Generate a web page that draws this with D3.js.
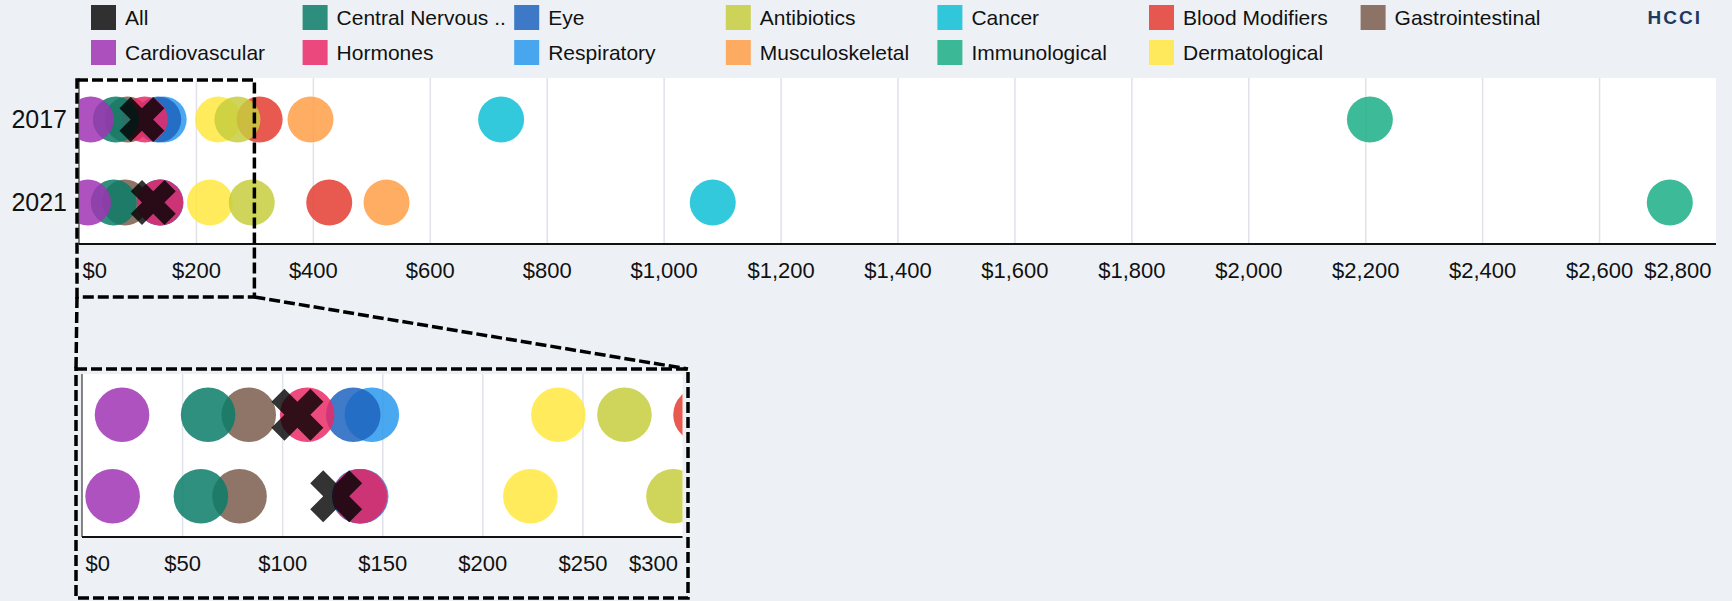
<!DOCTYPE html>
<html>
<head>
<meta charset="utf-8">
<script src="https://cdn.jsdelivr.net/npm/d3@7"></script>
<style>
  html, body { margin: 0; padding: 0; background: #edf1f5; }
  svg { display: block; font-family: "Liberation Sans", Arial, sans-serif; }
</style>
</head>
<body>
<svg id="chart" width="1732" height="601"></svg>
<script>
// ---- data ---------------------------------------------------------------
const years = ["2017", "2021"];

const categories = [
  "All", "Cardiovascular", "Central Nervous System", "Hormones", "Eye",
  "Respiratory", "Antibiotics", "Musculoskeletal", "Cancer", "Immunological",
  "Blood Modifiers", "Dermatological", "Gastrointestinal"
];

const colors = [
  "#000000", "#a034b4", "#0b7c68", "#ea2a67", "#1d64be",
  "#2a99ed", "#c7ce3d", "#ff9f46", "#0fc0d6", "#1baf86",
  "#e43d31", "#ffe83f", "#7a5d4c"
];

// average spend per member, in dollars, same order as categories
const values2017 = [107.6, 20, 63, 112.5, 135.5, 144.8, 271, 396, 722, 2208, 309, 238, 83.3];
const values2021 = [127, 15.3, 59.4, 139, 138.5, 139.5, 295.5, 526, 1084, 2721, 428, 224, 78.7];

const mainTicks = [0, 200, 400, 600, 800, 1000, 1200, 1400, 1600, 1800, 2000, 2200, 2400, 2600, 2800];
const zoomTicks = [0, 50, 100, 150, 200, 250, 300];

// ---- build records ------------------------------------------------------
const seriesValues = { "2017": values2017, "2021": values2021 };
const points = [];
years.forEach(y => {
  categories.forEach((c, i) => points.push({ year: y, cat: c, idx: i, value: seriesValues[y][i] }));
});
// later categories sit underneath: draw in reverse order, "All" last
const circlePoints = points.filter(d => d.cat !== "All").sort((a, b) => b.idx - a.idx);
const allPoints = points.filter(d => d.cat === "All");

const svg = d3.select("#chart");
const fmt = d3.format("$,");
const colorOf = d3.scaleOrdinal().domain(categories).range(colors);

// ---- legend -------------------------------------------------------------
const legend = svg.append("g").attr("class", "legend");
const perRow = 2;
categories.forEach((c, i) => {
  const col = Math.floor(i / perRow), row = i % perRow;
  const g = legend.append("g").attr("transform", `translate(${91 + col * 211.6},${5 + row * 35})`);
  g.append("rect").attr("width", 25).attr("height", 25)
    .attr("fill", colorOf(c)).attr("fill-opacity", c === "All" ? 0.8 : 0.85);
  const t = g.append("text").attr("x", 34).attr("y", 12.5).attr("dy", "0.35em")
    .attr("font-size", 21).attr("fill", "#111").text(c);
  // shorten long names to whole words followed by " .."
  const maxW = 172;
  if (t.node().getComputedTextLength() > maxW) {
    const words = c.split(" ");
    while (words.length > 1) {
      words.pop();
      t.text(words.join(" ") + " ..");
      if (t.node().getComputedTextLength() <= maxW) break;
    }
  }
});

svg.append("text").attr("x", 1702).attr("y", 17).attr("dy", "0.35em")
  .attr("text-anchor", "end").attr("font-size", 19).attr("font-weight", "bold")
  .attr("letter-spacing", 2).attr("fill", "#1f3a5f").text("HCCI");

// ---- panel drawing ------------------------------------------------------
function drawPanel(opts) {
  const { id, x, top, bottom, r, xSize, ticks, gridTicks, yearLabels } = opts;
  const [x0, x1] = x.range();
  const y = d3.scalePoint().domain(years).range([top, bottom]).padding(0.5);
  const g = svg.append("g").attr("class", id);

  g.append("clipPath").attr("id", id + "-clip")
    .append("rect").attr("x", x0).attr("y", top).attr("width", x1 - x0).attr("height", bottom - top);

  g.append("rect").attr("x", x0).attr("y", top).attr("width", x1 - x0).attr("height", bottom - top)
    .attr("fill", "#ffffff");

  // vertical grid
  const grid = g.append("g").attr("transform", `translate(0,${bottom})`)
    .call(d3.axisBottom(x).tickValues(gridTicks).tickSize(-(bottom - top)).tickFormat(""));
  grid.select(".domain").remove();
  grid.selectAll("line").attr("stroke", "#dfe2ea").attr("stroke-width", 1.5);

  // left edge
  g.append("line").attr("x1", x0).attr("x2", x0).attr("y1", top).attr("y2", bottom)
    .attr("stroke", "#111").attr("stroke-width", 1);

  const marks = g.append("g").attr("clip-path", `url(#${id}-clip)`);
  marks.selectAll("circle").data(circlePoints).join("circle")
    .attr("cx", d => x(d.value)).attr("cy", d => y(d.year)).attr("r", r)
    .attr("fill", d => colorOf(d.cat)).attr("fill-opacity", 0.85);

  const cross = d3.symbol().type(d3.symbolCross).size(xSize);
  marks.selectAll("path.all").data(allPoints).join("path").attr("class", "all")
    .attr("d", cross)
    .attr("transform", d => `translate(${x(d.value)},${y(d.year)}) rotate(45)`)
    .attr("fill", "#000").attr("fill-opacity", 0.8);

  // axis with tick labels
  const ax = g.append("g").attr("transform", `translate(0,${bottom})`)
    .call(d3.axisBottom(x).tickValues(ticks).tickSize(0).tickPadding(0).tickFormat(fmt));
  ax.select(".domain").remove();
  ax.selectAll("text").attr("font-size", 22).attr("fill", "#111")
    .attr("font-family", "'Liberation Sans', Arial, sans-serif")
    .attr("y", 26).attr("dy", "0.35em");
  const tickText = ax.selectAll(".tick text");
  const n = tickText.size();
  tickText.each(function (d, i) {
    if (i === 0) d3.select(this).attr("text-anchor", "start").attr("x", 3);
    if (i === n - 1) d3.select(this).attr("text-anchor", "end").attr("x", -5);
  });

  g.append("line").attr("x1", x0).attr("x2", x1).attr("y1", bottom).attr("y2", bottom)
    .attr("stroke", "#111").attr("stroke-width", 2);

  if (yearLabels) {
    g.selectAll("text.year").data(years).join("text").attr("class", "year")
      .attr("x", 67).attr("y", d => y(d)).attr("dy", "0.35em")
      .attr("text-anchor", "end").attr("font-size", 25).attr("fill", "#111").text(d => d);
  }
  return { x, y };
}

const xMain = d3.scaleLinear().domain([0, 2800]).range([79, 1716]);
const xZoom = d3.scaleLinear().domain([0, 300]).range([82, 682.5]);

drawPanel({
  id: "main", x: xMain, top: 78, bottom: 244, r: 23, xSize: 1264,
  ticks: mainTicks, gridTicks: mainTicks.slice(1, -1), yearLabels: true
});
drawPanel({
  id: "zoom", x: xZoom, top: 374, bottom: 537, r: 27.3, xSize: 1690,
  ticks: zoomTicks, gridTicks: zoomTicks.slice(1, -1), yearLabels: false
});

// ---- magnifier outline --------------------------------------------------
const focusLeft = xMain(0) - 2, focusRight = xMain(zoomTicks[zoomTicks.length - 1]);
const focusTop = 80, focusBottom = 297;
const boxLeft = 76, boxRight = 688, boxTop = 369, boxBottom = 598;

const dash = svg.append("g").attr("fill", "none").attr("stroke", "#000")
  .attr("stroke-width", 3.5).attr("stroke-dasharray", "11,4");

dash.append("rect").attr("x", focusLeft).attr("y", focusTop)
  .attr("width", focusRight - focusLeft).attr("height", focusBottom - focusTop);
dash.append("rect").attr("x", boxLeft).attr("y", boxTop)
  .attr("width", boxRight - boxLeft).attr("height", boxBottom - boxTop);
dash.append("line").attr("x1", focusLeft).attr("y1", focusBottom).attr("x2", boxLeft).attr("y2", boxTop);
dash.append("line").attr("x1", focusRight).attr("y1", focusBottom).attr("x2", boxRight).attr("y2", boxTop);
</script>
</body>
</html>
